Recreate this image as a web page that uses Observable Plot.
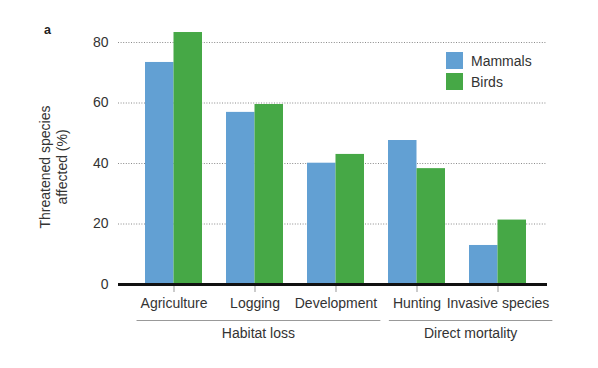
<!DOCTYPE html>
<html><head><meta charset="utf-8">
<script src="https://cdn.jsdelivr.net/npm/d3@7"></script>
<script src="https://cdn.jsdelivr.net/npm/@observablehq/plot@0.6"></script>
<style>
body{margin:0;background:#fff}
#chart svg{font-family:"Liberation Sans",Arial,sans-serif;overflow:visible}
</style>
</head><body><div id="chart"></div>
<script>
const categories = ["Agriculture","Logging","Development","Hunting","Invasive species"];
const series = ["Mammals","Birds"];
const mammals = [73.4, 56.9, 40.1, 47.6, 12.9];
const birds = [83.3, 59.5, 43.0, 38.3, 21.3];
const yTicks = [0, 20, 40, 60, 80];
const gridValues = [20, 40, 60, 80];
const groups = [
  {name: "Habitat loss", members: ["Agriculture","Logging","Development"]},
  {name: "Direct mortality", members: ["Hunting","Invasive species"]}
];
const colors = ["#62a0d3", "#46a846"];
const yLabel = ["Threatened species", "affected (%)"];
const panelLabel = "a";

const data = categories.flatMap((c, i) => [
  {category: c, series: series[0], value: mammals[i]},
  {category: c, series: series[1], value: birds[i]}
]);

const half = 28.5;
const FS = "14px";
const plot = Plot.plot({
  width: 598,
  height: 368,
  marginLeft: 118,
  marginRight: 51,
  marginTop: 42,
  marginBottom: 84,
  style: {fontSize: FS, color: "#333", background: "#fff", fontFamily: '"Liberation Sans",Arial,sans-serif'},
  x: {domain: categories, paddingInner: 0.3, paddingOuter: 0.285, align: 0.56, label: null, tickSize: 8, tickPadding: 6},
  y: {domain: [0, 80], ticks: yTicks, tickSize: 0, tickPadding: 10, label: null},
  marks: [
    Plot.ruleY(gridValues, {stroke: "#8a8a8a", strokeWidth: 1, strokeDasharray: "1,1.6"}),
    Plot.barY(data.filter(d => d.series === series[0]), {x: "category", y: "value", fill: colors[0], insetRight: half}),
    Plot.barY(data.filter(d => d.series === series[1]), {x: "category", y: "value", fill: colors[1], insetLeft: half}),
    Plot.ruleY([0], {stroke: "#111", strokeWidth: 3})
  ]
});
document.getElementById("chart").appendChild(plot);

const svg = d3.select(plot);
svg.selectAll('[aria-label^="x-axis"] line, [aria-label^="x-axis"] path').attr("stroke", "#999");
svg.selectAll('[aria-label^="y-axis"] line, [aria-label^="y-axis"] path').attr("stroke", "none");
svg.selectAll('[aria-label^="x-axis"] text, [aria-label^="y-axis"] text').attr("font-size", FS).attr("fill", "#333");

const xs = plot.scale("x");
const texts = Array.from(plot.querySelectorAll("text"));
function labelBox(name) {
  const t = texts.find(e => e.textContent === name);
  if (t) {
    const r = t.getBoundingClientRect(); const s = plot.getBoundingClientRect();
    return [r.left - s.left, r.right - s.left];
  }
  const x0 = xs.apply(name); return [x0, x0 + xs.bandwidth];
}
groups.forEach(g => {
  const [l] = labelBox(g.members[0]);
  const [, r] = labelBox(g.members[g.members.length - 1]);
  const x1 = l - 4, x2 = r + 3;
  svg.append("line").attr("x1", x1).attr("x2", x2).attr("y1", 320.5).attr("y2", 320.5)
    .attr("stroke", "#999").attr("stroke-width", 1);
  svg.append("text").attr("x", (x1 + x2) / 2).attr("y", 338).attr("text-anchor", "middle")
    .attr("fill", "#333").attr("font-size", FS).text(g.name);
});

const yl = svg.append("text").attr("transform", "translate(0,167) rotate(-90)").attr("text-anchor", "middle")
  .attr("fill", "#333").attr("font-size", "14px");
yl.append("tspan").attr("x", 0).attr("y", 50).text(yLabel[0]);
yl.append("tspan").attr("x", 0).attr("y", 67).text(yLabel[1]);

svg.append("text").attr("x", 44).attr("y", 34).attr("text-anchor", "start").attr("font-weight", "bold").attr("font-size", "12.5px")
  .attr("fill", "#222").text(panelLabel);

series.forEach((s, i) => {
  svg.append("rect").attr("x", 446).attr("y", 52 + i * 21).attr("width", 17).attr("height", 17).attr("fill", colors[i]);
  svg.append("text").attr("x", 471).attr("y", 66 + i * 21).attr("text-anchor", "start")
    .attr("fill", "#333").attr("font-size", FS).text(s);
});
</script>
</body></html>
